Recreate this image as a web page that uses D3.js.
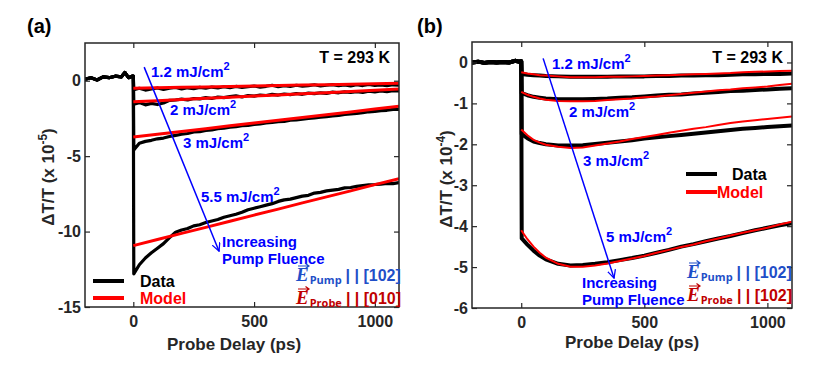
<!DOCTYPE html>
<html>
<head>
<meta charset="utf-8">
<script src="https://cdn.jsdelivr.net/npm/d3@7"></script>
<style>
  body { margin: 0; background: #fff; }
  text { font-family: "Liberation Sans", Arial, sans-serif; font-weight: bold; }
</style>
</head>
<body>
<svg id="chart" width="830" height="374"></svg>
<script>
// ---------- panel (a) data, dT/T in units of 1e-5 ----------
const preTimeA = [-200, -175, -150, -125, -100, -75, -50, -35, -20, -5, 0]
const preValA = [0.1, 0.2, 0.05, 0.25, 0.2, 0.3, 0.25, 0.55, 0.2, 0.3, 0.3]
const postTimeA = [2, 25, 50, 75, 100, 125, 150, 175, 200, 225, 250, 275, 300, 325, 350, 375, 400, 425, 450, 475,
  500, 525, 550, 575, 600, 625, 650, 675, 700, 725, 750, 775, 800, 825, 850, 875, 900, 925, 950, 975,
  1000, 1025, 1050, 1075, 1100]
const data12A = [-0.6, -0.5, -0.62, -0.55, -0.48, -0.58, -0.5, -0.45, -0.55, -0.47, -0.52, -0.44, -0.5, -0.42, -0.48,
  -0.4, -0.46, -0.38, -0.44, -0.4, -0.35, -0.42, -0.37, -0.3, -0.4, -0.33, -0.38, -0.3, -0.36, -0.32,
  -0.27, -0.35, -0.3, -0.26, -0.33, -0.28, -0.34, -0.27, -0.32, -0.25, -0.31, -0.28, -0.33, -0.27, -0.3]
const data2A = [-1.55, -1.45, -1.6, -1.5, -1.58, -1.48, -1.3, -1.28, -1.22, -1.28, -1.18, -1.2, -1.12, -1.18, -1.08,
  -1.12, -1.05, -1.0, -1.08, -0.98, -1.02, -0.95, -0.98, -0.9, -0.95, -0.88, -0.92, -0.85, -0.9, -0.82,
  -0.86, -0.8, -0.84, -0.76, -0.8, -0.74, -0.78, -0.72, -0.77, -0.7, -0.74, -0.68, -0.72, -0.66, -0.67]
const data3A = [-4.6, -4.15, -4.02, -3.95, -3.85, -3.8, -3.7, -3.62, -3.55, -3.5, -3.4, -3.38, -3.3, -3.26, -3.18,
  -3.15, -3.08, -3.05, -2.98, -2.96, -2.9, -2.86, -2.8, -2.77, -2.72, -2.7, -2.62, -2.6, -2.55, -2.5,
  -2.47, -2.42, -2.38, -2.33, -2.3, -2.24, -2.2, -2.16, -2.12, -2.06, -2.03, -1.98, -1.96, -1.9, -1.9]
const data55A = [-12.8, -12.2, -11.75, -11.4, -11.1, -10.8, -10.4, -10.05, -9.9, -9.8, -9.62, -9.55, -9.4, -9.3, -9.2,
  -9.05, -8.95, -8.85, -8.72, -8.55, -8.45, -8.35, -8.25, -8.15, -8.0, -7.9, -7.85, -7.75, -7.65, -7.6,
  -7.45, -7.4, -7.3, -7.25, -7.2, -7.1, -7.08, -7.0, -6.95, -6.9, -6.88, -6.85, -6.8, -6.82, -6.75]
const modelTimeA = [0, 100, 200, 300, 400, 500, 600, 700, 800, 900, 1000, 1100]
const model12A = [-0.5, -0.47, -0.44, -0.41, -0.38, -0.35, -0.32, -0.29, -0.26, -0.23, -0.2, -0.17]
const model2A = [-1.4, -1.32, -1.25, -1.17, -1.09, -1.02, -0.94, -0.86, -0.79, -0.71, -0.63, -0.55]
const model3A = [-3.73, -3.55, -3.36, -3.18, -2.99, -2.81, -2.62, -2.44, -2.25, -2.07, -1.88, -1.7]
const model55A = [-10.93, -10.53, -10.12, -9.72, -9.32, -8.91, -8.51, -8.1, -7.7, -7.3, -6.89, -6.49]
const fluenceA = ['1.2', '2', '3', '5.5']

// ---------- panel (b) data, dT/T in units of 1e-4 ----------
const preTimeB = [-200, -175, -150, -125, -100, -75, -50, -25, -10, 0]
const preValB = [0.0, 0.02, -0.01, 0.01, 0.0, 0.01, 0.0, 0.04, 0.02, 0.03]
const postTimeB = [2, 25, 50, 75, 100, 150, 200, 250, 300, 350, 400, 450, 500, 550, 600, 650, 700, 750, 800, 850,
  900, 950, 1000, 1050, 1100]
const modelTimeB = [0, 25, 50, 75, 100, 150, 200, 250, 300, 350, 400, 450, 500, 550, 600, 650, 700, 750, 800, 850,
  900, 950, 1000, 1050, 1100]
const data12B = [-0.28, -0.3, -0.31, -0.32, -0.33, -0.34, -0.35, -0.35, -0.35, -0.35, -0.34, -0.34, -0.34, -0.33, -0.33,
  -0.32, -0.32, -0.31, -0.31, -0.3, -0.29, -0.29, -0.28, -0.28, -0.27]
const data2B = [-0.75, -0.8, -0.84, -0.86, -0.88, -0.9, -0.9, -0.9, -0.89, -0.88, -0.86, -0.85, -0.83, -0.81, -0.79,
  -0.78, -0.76, -0.74, -0.72, -0.7, -0.69, -0.67, -0.66, -0.64, -0.63]
const data3B = [-1.75, -1.85, -1.93, -1.97, -2.0, -2.03, -2.03, -2.02, -1.99, -1.96, -1.93, -1.9, -1.86, -1.83, -1.8,
  -1.77, -1.74, -1.71, -1.68, -1.65, -1.62, -1.6, -1.58, -1.56, -1.54]
const data5B = [-4.3, -4.45, -4.6, -4.72, -4.81, -4.92, -4.96, -4.95, -4.92, -4.88, -4.83, -4.78, -4.72, -4.65, -4.58,
  -4.5, -4.44, -4.37, -4.3, -4.24, -4.17, -4.1, -4.04, -3.98, -3.93]
const model12B = [-0.24, -0.27, -0.29, -0.31, -0.32, -0.34, -0.36, -0.36, -0.36, -0.35, -0.35, -0.34, -0.33, -0.32, -0.31,
  -0.3, -0.29, -0.28, -0.27, -0.26, -0.24, -0.23, -0.22, -0.21, -0.2]
const model2B = [-0.72, -0.79, -0.84, -0.88, -0.91, -0.94, -0.95, -0.95, -0.94, -0.92, -0.9, -0.88, -0.85, -0.83, -0.8,
  -0.77, -0.74, -0.71, -0.68, -0.66, -0.63, -0.61, -0.59, -0.55, -0.52]
const model3B = [-1.64, -1.78, -1.89, -1.96, -2.01, -2.06, -2.09, -2.08, -2.03, -1.98, -1.93, -1.87, -1.82, -1.77, -1.72,
  -1.67, -1.62, -1.58, -1.53, -1.48, -1.44, -1.41, -1.38, -1.35, -1.32]
const model5B = [-4.1, -4.32, -4.5, -4.65, -4.77, -4.92, -4.99, -4.99, -4.96, -4.91, -4.85, -4.79, -4.73, -4.65, -4.58,
  -4.51, -4.45, -4.37, -4.3, -4.23, -4.16, -4.1, -4.04, -3.96, -3.89]
const fluenceB = ['1.2', '2', '3', '5']

const xTicks = [0, 500, 1000]
const yTicksA = [0, -5, -10, -15]
const yTicksB = [0, -1, -2, -3, -4, -5, -6]

const BLUE = '#0000ff'
const PUMP = '#1f4fc8'
const PROBE = '#c00000'
const AXIS = '#262626'

const svg = d3.select('#chart')

svg.append('defs').append('marker')
    .attr('id', 'arrowHead')
    .attr('viewBox', '0 0 10 10')
    .attr('refX', 9).attr('refY', 5)
    .attr('markerWidth', 9).attr('markerHeight', 9)
    .attr('markerUnits', 'userSpaceOnUse')
    .attr('orient', 'auto')
  .append('path')
    .attr('d', 'M0,0.5 L9,5 L0,9.5')
    .attr('fill', 'none')
    .attr('stroke', BLUE)
    .attr('stroke-width', 1.4)

function zipSeries(ts, vs) {
  return ts.map((t, i) => [t, vs[i]])
}

function drawPanel(p) {
  const x = d3.scaleLinear().domain([-200, 1100]).range([p.x0, p.x1])
  const y = d3.scaleLinear().domain(p.yDomain).range([p.y1, p.y0])
  const g = svg.append('g')

  g.append('clipPath').attr('id', 'clip-' + p.tag)
    .append('rect')
    .attr('x', p.x0).attr('y', p.y0)
    .attr('width', p.x1 - p.x0).attr('height', p.y1 - p.y0)

  const line = d3.line().x(d => x(d[0])).y(d => y(d[1]))
  const plot = g.append('g').attr('clip-path', `url(#clip-${p.tag})`)

  // data: shared baseline, then the drop at t = 0
  p.data.forEach(vals => {
    const pts = zipSeries(p.preT, p.preV).concat(zipSeries(p.postT, vals))
    plot.append('path')
        .attr('d', line(pts))
        .attr('fill', 'none')
        .attr('stroke', 'black')
        .attr('stroke-width', p.dataWidth)
        .attr('stroke-linejoin', 'round')
        .attr('stroke-linecap', 'round')
  })
  p.models.forEach(vals => {
    plot.append('path')
        .attr('d', line(zipSeries(p.modelT, vals)))
        .attr('fill', 'none')
        .attr('stroke', '#ff0000')
        .attr('stroke-width', p.modelWidth)
  })

  // axes, ticks inside on all four sides
  const fmt = d => String(d)
  g.append('g').attr('transform', `translate(0,${p.y1})`)
      .call(d3.axisBottom(x).tickValues(xTicks).tickSize(-5).tickPadding(9).tickFormat(fmt))
      .call(a => a.select('.domain').remove())
  g.append('g').attr('transform', `translate(0,${p.y0})`)
      .call(d3.axisTop(x).tickValues(xTicks).tickSize(-5).tickFormat(''))
      .call(a => a.select('.domain').remove())
  g.append('g').attr('transform', `translate(${p.x0},0)`)
      .call(d3.axisLeft(y).tickValues(p.yTicks).tickSize(-5).tickPadding(4).tickFormat(fmt))
      .call(a => a.select('.domain').remove())
  g.append('g').attr('transform', `translate(${p.x1},0)`)
      .call(d3.axisRight(y).tickValues(p.yTicks).tickSize(-5).tickFormat(''))
      .call(a => a.select('.domain').remove())
  g.selectAll('.tick line').attr('stroke', AXIS).attr('stroke-width', 1.2)
  g.selectAll('.tick text')
      .attr('fill', AXIS)
      .style('font-size', '16px')
      .style('font-family', '"Liberation Sans", Arial, sans-serif')
      .style('font-weight', 'bold')

  g.append('rect')
      .attr('x', p.x0).attr('y', p.y0)
      .attr('width', p.x1 - p.x0).attr('height', p.y1 - p.y0)
      .attr('fill', 'none')
      .attr('stroke', AXIS)
      .attr('stroke-width', 1.5)

  // axis titles
  g.append('text')
      .attr('x', (p.x0 + p.x1) / 2 + p.xLabelShift).attr('y', p.xLabelY)
      .attr('text-anchor', 'middle')
      .attr('fill', AXIS)
      .style('font-size', '17px')
      .text('Probe Delay (ps)')
  const yl = g.append('text')
      .attr('transform', `translate(${p.yLabelX},${p.yLabelCY}) rotate(-90)`)
      .attr('text-anchor', 'middle')
      .attr('fill', AXIS)
      .style('font-size', '17px')
  yl.append('tspan').text('\u0394T/T (x 10')
  yl.append('tspan').text(p.exp).attr('dy', -7).style('font-size', '12px')
  yl.append('tspan').text(')').attr('dy', 7)

  // panel tag and temperature
  g.append('text').attr('x', p.tagX).attr('y', 33)
      .style('font-size', '20px').attr('fill', 'black').text(`(${p.tag})`)
  g.append('text').attr('x', p.x1 - 9).attr('y', 63)
      .attr('text-anchor', 'end')
      .style('font-size', '16px').attr('fill', 'black').text('T = 293 K')

  // fluence labels
  p.fluence.forEach((f, i) => {
    const t = g.append('text')
        .attr('x', p.fluencePos[i][0]).attr('y', p.fluencePos[i][1])
        .attr('fill', BLUE).style('font-size', '15px')
    t.append('tspan').text(f + ' mJ/cm')
    t.append('tspan').text('2').attr('dy', -7).style('font-size', '11px')
  })

  // arrow (in data coordinates)
  g.append('line')
      .attr('x1', x(p.arrow[0][0])).attr('y1', y(p.arrow[0][1]))
      .attr('x2', x(p.arrow[1][0])).attr('y2', y(p.arrow[1][1]))
      .attr('stroke', BLUE).attr('stroke-width', 1.5)
      .attr('marker-end', 'url(#arrowHead)')
  const inc = g.append('text').attr('fill', BLUE).style('font-size', '15px')
  inc.append('tspan').attr('x', p.incPos[0]).attr('y', p.incPos[1]).text('Increasing')
  inc.append('tspan').attr('x', p.incPos[0]).attr('y', p.incPos[1] + 17).text('Pump Fluence')

  // legend
  const legendItems = [['Data', 'black'], ['Model', '#ff0000']]
  legendItems.forEach(([name, color], i) => {
    const ly = p.legend.y + i * p.legend.gap
    g.append('line')
        .attr('x1', p.legend.x).attr('x2', p.legend.x + 31)
        .attr('y1', ly).attr('y2', ly)
        .attr('stroke', color).attr('stroke-width', 4)
    g.append('text')
        .attr('x', p.legend.textX[i]).attr('y', ly + 6)
        .attr('fill', color).style('font-size', '16px')
        .text(name)
  })

  // polarisation labels
  const fields = [['Pump', p.pumpAxis, PUMP], ['Probe', p.probeAxis, PROBE]]
  fields.forEach(([sub, axisName, color], i) => {
    const fx = p.field.x
    const fy = p.field.y + i * 23
    const t = g.append('text').attr('x', fx).attr('y', fy).attr('fill', color)
    t.append('tspan').text('E')
        .style('font-family', '"Liberation Serif", "Times New Roman", serif')
        .style('font-style', 'italic').style('font-size', '19px')
    t.append('tspan').text(sub).attr('dy', 3).attr('dx', 1)
        .style('font-family', '"Open Sans", "Liberation Sans", sans-serif').style('font-size', '11px')
    t.append('tspan').text('| |  ' + axisName).attr('dy', -3).attr('dx', 4).style('font-size', '16px')
    g.append('path')
        .attr('d', `M${fx + 2},${fy - 15}h11m-3.5,-2.5l3.5,2.5l-3.5,2.5`)
        .attr('fill', 'none').attr('stroke', color).attr('stroke-width', 1.2)
  })
}

drawPanel({
  tag: 'a', x0: 85, x1: 399, y0: 43, y1: 307,
  yDomain: [-15, 2.5], yTicks: yTicksA, exp: '-5',
  preT: preTimeA, preV: preValA, postT: postTimeA,
  data: [data12A, data2A, data3A, data55A], dataWidth: 3.2,
  modelT: modelTimeA, models: [model12A, model2A, model3A, model55A], modelWidth: 3,
  fluence: fluenceA,
  fluencePos: [[151, 77], [170, 115], [183, 148], [201, 202]],
  arrow: [[45, 0.9], [355, -11.3]],
  incPos: [222, 247],
  legend: { x: 93, y: 281, gap: 17, textX: [140, 140] },
  field: { x: 296, y: 281 }, pumpAxis: '[102]', probeAxis: '[010]',
  tagX: 27, xLabelShift: -8, xLabelY: 350, yLabelX: 54, yLabelCY: 177
})

drawPanel({
  tag: 'b', x0: 472, x1: 792, y0: 42, y1: 308,
  yDomain: [-6, 0.5], yTicks: yTicksB, exp: '-4',
  preT: preTimeB, preV: preValB, postT: postTimeB,
  data: [data12B, data2B, data3B, data5B], dataWidth: 4,
  modelT: modelTimeB, models: [model12B, model2B, model3B, model5B], modelWidth: 2,
  fluence: fluenceB,
  fluencePos: [[552, 69], [569, 117], [583, 166], [606, 242]],
  arrow: [[89, 0.1], [377, -5.27]],
  incPos: [582, 288],
  legend: { x: 686, y: 174, gap: 18, textX: [732, 717] },
  field: { x: 687, y: 278 }, pumpAxis: '[102]', probeAxis: '[102]',
  tagX: 417, xLabelShift: 0, xLabelY: 348, yLabelX: 452, yLabelCY: 179
})
</script>
</body>
</html>
